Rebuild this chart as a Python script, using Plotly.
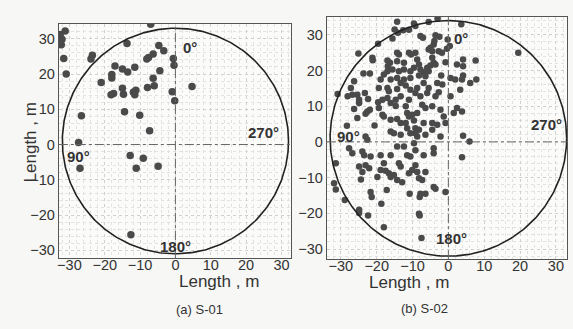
import plotly.graph_objects as go
import numpy as np

# ---- S-01 data (m) ----
s01_x = [-7.0, -32.6, -32.1, -32.3, -31.2, -31.6, -30.9, -13.7, -4.7, -3.3, -6.3, -7.6, -8.1,
         -0.6, -0.4, -23.5, -23.9, -17.1, -15.0, -13.5, -11.5, -4.4, -18.0, -18.0, -6.3, -21.0,
         -6.0, -7.9, 4.7, -15.0, -14.7, -18.2, -17.5, -11.9, -11.2, -11.5, -0.9, -0.2, -14.4,
         -10.1, -26.6, -7.3, -27.4, -12.8, -9.1, -27.0, -11.1, -4.9, -12.6]
s01_y = [34.1, 31.2, 29.9, 28.3, 32.2, 24.4, 20.0, 28.7, 28.1, 26.6, 25.7, 24.7, 24.3,
         24.4, 22.5, 25.3, 24.3, 22.3, 21.4, 20.6, 21.9, 20.9, 19.9, 18.9, 18.8, 17.6,
         16.7, 16.2, 16.5, 16.0, 14.3, 14.1, 14.5, 14.8, 15.4, 14.1, 15.0, 12.4, 9.3,
         8.3, 8.2, 3.9, 0.6, -3.1, -3.9, -6.7, -6.7, -6.2, -25.6]

# ---- S-02 data (m) ----
s02_x = [-14.3, -9.6, -9.2, -5.5, -3.0, 3.6, -15.0, -14.1, -12.6, -11.0, -15.6, -19.6, -7.8, -7.1,
         -3.6, -2.5, -0.2, -25.1, -21.2, -21.1, -17.0, -16.3, -16.9, -14.3, -13.8, -14.3, -12.4,
         -11.0, -10.4, -9.2, -8.7, -8.2, -5.5, -5.0, -4.5, -4.1, -3.9, -2.7, -1.8, -0.4, 0.4,
         -0.8, 4.1, 7.6, 19.5, -4.5, -4.1, -5.0, -5.9, -5.5, -3.6, -6.9, -7.8, -9.6, -10.6,
         -12.4, -13.8, -15.6, -17.0, -18.0, -18.9, -16.1, -14.3, -12.4, -10.6, -8.2, -6.4,
         -23.7, -21.9, -26.3, -27.2, -25.4, -26.8, -28.1, -23.3, -22.4, -24.9, -30.9, -19.4,
         -17.0, -16.6, -14.3, -13.3, -11.9, -10.6, -8.7, -6.9, -5.5, -3.1, -2.0, -1.7, 0.6, 1.9,
         2.4, 4.1, 4.1, 3.8, 6.1, 7.8, 3.3, 0.6, -2.7, -3.6, -5.9, -7.8, -9.2, -11.0, -13.3,
         -14.7, -17.0, -18.4, -19.6, -21.9, -24.9, -26.3, -22.6, -19.4, -16.1, -14.7, -11.9,
         -11.5, -11.0, -10.1, -8.7, -7.3, -6.4, -4.5, -2.2, -1.3, -0.8, 1.5, 2.4, 3.8, -18.4,
         -18.0, -16.1, -14.3, -13.3, -11.9, -11.5, -9.6, -9.2, -8.2, -6.9, -4.5, -3.1, -25.4,
         -23.1, -28.3, -20.6, -16.1, -15.2, -13.3, -10.6, -9.2, -8.7, -6.4, -4.5, -2.2, 4.1,
         5.9, -23.1, -22.6, -27.7, -26.8, -24.0, -23.5, -21.7, -18.9, -16.1, -14.3, -12.4,
         -11.5, -10.6, -9.6, -9.2, -6.9, -4.1, -4.1, 3.8, -31.4, -24.9, -24.0, -23.1, -22.1,
         -24.4, -19.8, -18.9, -18.0, -17.5, -16.6, -16.1, -15.2, -13.8, -13.3, -14.3, -12.9,
         -11.0, -10.1, -9.2, -8.7, -8.2, -7.3, -6.4, -31.9, -31.4, -28.9, -21.7, -21.4, -17.2,
         -18.7, -10.8, -7.8, -8.0, -6.4, -4.1, -3.6, -0.8, -24.9, -24.9, -22.4, -18.0, -8.2,
         -8.0, -7.5]
s02_y = [33.7, 33.2, 32.5, 33.6, 34.6, 33.0, 31.5, 30.6, 31.3, 31.4, 29.0, 27.5, 29.7, 29.2,
         29.9, 29.5, 28.7, 24.8, 23.6, 22.9, 22.8, 22.2, 21.2, 25.0, 24.5, 22.6, 22.2,
         25.0, 24.5, 25.0, 23.1, 21.7, 25.9, 26.4, 25.4, 27.3, 28.3, 25.4, 25.0, 26.1, 26.9,
         22.3, 23.1, 22.8, 25.0, 23.6, 22.2, 21.4, 20.8, 19.8, 21.7, 19.5, 20.3, 20.8, 19.8,
         20.3, 19.8, 20.3, 19.8, 18.9, 17.5, 17.5, 17.9, 17.5, 17.9, 18.6, 18.4,
         19.2, 19.2, 17.0, 15.1, 13.2, 13.2, 12.8, 13.7, 12.0, 11.8, 13.4, 15.1,
         15.1, 14.2, 14.8, 16.5, 15.8, 14.6, 15.1, 16.5, 15.1, 16.5, 18.6, 16.1, 17.9, 17.5,
         21.7, 21.2, 18.6, 17.5, 16.5, 17.5, 14.6, 12.8, 13.9, 12.8, 13.7, 12.8, 13.7, 11.8, 12.8,
         11.8, 12.3, 11.8, 11.1, 9.0, 10.9, 9.2, 8.5, 9.5, 10.9, 10.1, 10.0,
         8.1, 7.1, 7.6, 8.1, 10.4, 9.5, 10.0, 9.0, 7.1, 5.3, 8.1, 9.5, 8.5, 7.6,
         7.1, 6.2, 6.4, 5.3, 5.3, 3.8, 6.0, 3.8, 3.4, 5.3, 5.3, 4.8, 6.7,
         7.9, 4.5, 4.6, 2.9, 2.4, 2.0, 2.4, 2.4, 1.5, 2.0, 3.4, 1.5, 1.7,
         0.1, 1.5, 0.6, -1.8, -3.2, -2.7, -3.7, -4.1, -3.7, -3.7, -1.3, -1.3,
         -3.7, -4.1, -0.4, -2.3, -3.7, -3.2, -1.8, -4.3, -6.0, -6.9, -8.4, -6.5, -7.4,
         -10.5, -9.8, -7.9, -6.0, -8.1, -8.8, -9.8, -9.3, -6.0, -6.9, -10.7, -11.3,
         -8.8, -7.9, -6.5, -8.4, -10.2, -10.7, -8.4, -11.6, -13.3, -16.3, -14.0, -15.4, -13.5,
         -17.3, -14.5, -14.5, -15.4, -14.5, -12.6, -13.1, -14.0, -19.0, -19.9, -20.6, -23.9, -20.1,
         -20.6, -26.9]

tick_vals = [-30, -20, -10, 0, 10, 20, 30]
angle_text = ["0°", "90°", "180°", "270°"]
s01_angle_x = [4.0, -27.4, 0.0, 25.0]
s01_angle_y = [27.5, -3.5, -29.0, 3.3]
s02_angle_x = [3.4, -28.0, 1.0, 27.3]
s02_angle_y = [29.0, 1.4, -27.0, 4.8]
circle_r = [32.0, 33.0]
circle_cy = [1.0, 1.0]

W, H = 573, 329
fig = go.Figure()

def circ(r, cy):
    t = np.linspace(0, 2 * np.pi, 361)
    return r * np.cos(t), cy + r * np.sin(t)

dot = "#4a4a4a"
fig.add_trace(go.Scatter(x=s01_x, y=s01_y, mode="markers", xaxis="x", yaxis="y",
                         marker=dict(size=7.5, color=dot), showlegend=False))
fig.add_trace(go.Scatter(x=s02_x, y=s02_y, mode="markers", xaxis="x2", yaxis="y2",
                         marker=dict(size=6.5, color=dot), showlegend=False))
for i, (xa, ya) in enumerate([("x", "y"), ("x2", "y2")]):
    cx, cy = circ(circle_r[i], circle_cy[i])
    fig.add_trace(go.Scatter(x=cx, y=cy, mode="lines", xaxis=xa, yaxis=ya,
                             line=dict(color="#222", width=1.6), showlegend=False,
                             hoverinfo="skip"))
    fig.add_shape(type="line", xref=xa, yref=ya + " domain", x0=0, x1=0, y0=0, y1=1,
                  line=dict(color="#666", width=1, dash="dashdot"))
    fig.add_shape(type="line", xref=xa + " domain", yref=ya, x0=0, x1=1, y0=0, y1=0,
                  line=dict(color="#666", width=1, dash="dashdot"))

ax_common = dict(tickvals=tick_vals, showline=True, mirror=True, linecolor="#555",
                 linewidth=1.2, ticks="", zeroline=False,
                 showgrid=True, gridcolor="#d0d0d0", griddash="dot", gridwidth=1,
                 minor=dict(dtick=2, showgrid=True, gridcolor="#e2e2e2", griddash="dot",
                            gridwidth=1),
                 tickfont=dict(family="Liberation Sans, Arial", size=14.5, color="#333"))

fig.update_layout(
    width=W, height=H, margin=dict(l=0, r=0, t=0, b=0),
    paper_bgcolor="#f7f7f5", plot_bgcolor="#fbfbfa",
    xaxis=dict(domain=[57 / W, 290 / W], range=[-33, 32.7], anchor="y",
               ticklabelstandoff=-7, **ax_common),
    yaxis=dict(domain=[1 - 258 / H, 1 - 24 / H], range=[-32.2, 34.2], anchor="x", **ax_common),
    xaxis2=dict(domain=[326 / W, 567 / W], range=[-33.9, 33.1], anchor="y2",
                ticklabelstandoff=-7, **ax_common),
    yaxis2=dict(domain=[1 - 259 / H, 1 - 17 / H], range=[-32.8, 35.0], anchor="x2", **ax_common),
)

afont = dict(family="Liberation Sans, Arial", size=15, color="#333")
for xs, ys, xa, ya in [(s01_angle_x, s01_angle_y, "x", "y"), (s02_angle_x, s02_angle_y, "x2", "y2")]:
    for t, ax_, ay_ in zip(angle_text, xs, ys):
        fig.add_annotation(x=ax_, y=ay_, xref=xa, yref=ya, text="<b>" + t + "</b>",
                           showarrow=False, font=afont)

tfont = dict(family="Liberation Sans, Arial", size=17, color="#333")
fig.add_annotation(x=177 / W, y=1 - 292 / H, xref="paper", yref="paper", text="Length , m",
                   showarrow=False, font=tfont, borderpad=0)
fig.add_annotation(x=450 / W, y=1 - 293 / H, xref="paper", yref="paper", text="Length , m",
                   showarrow=False, font=tfont, borderpad=0)
fig.add_annotation(x=17 / W, y=1 - 142 / H, xref="paper", yref="paper", text="Length , m",
                   showarrow=False, font=tfont, textangle=-90)
sfont = dict(family="Liberation Sans, Arial", size=13, color="#333")
fig.add_annotation(x=173 / W, y=1 - 319 / H, xref="paper", yref="paper", text="(a) S-01",
                   showarrow=False, font=sfont)
fig.add_annotation(x=450 / W, y=1 - 318 / H, xref="paper", yref="paper", text="(b) S-02",
                   showarrow=False, font=sfont)

fig.write_html("out.html", config={"displayModeBar": False},
               post_script="document.body.style.margin='0';")
